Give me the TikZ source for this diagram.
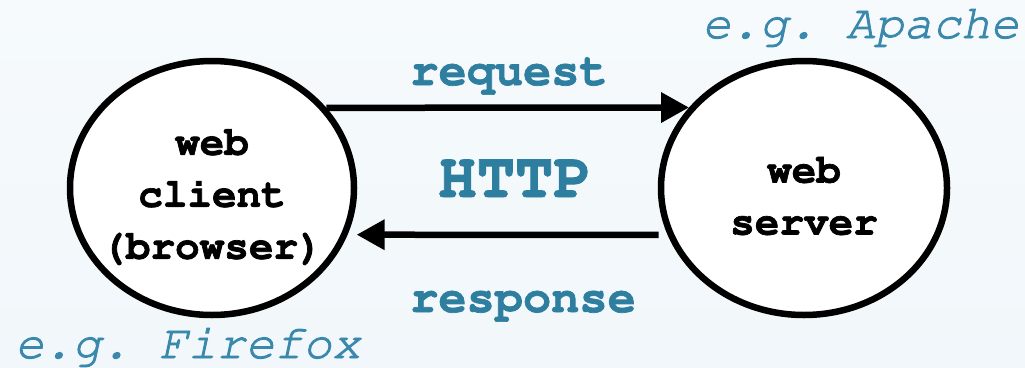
\documentclass[tikz,border=0pt]{standalone}
\usepackage[T1]{fontenc}
\renewcommand{\ttdefault}{pcr}
\usetikzlibrary{arrows.meta,shapes.geometric}
\definecolor{tealA}{HTML}{2E7EA0}
\definecolor{tealB}{HTML}{3A88AB}
\definecolor{bgtop}{HTML}{F6FAFD}
\definecolor{bgbot}{HTML}{F1F7FA}
\newcommand{\heavytext}[2]{\special{pdf:literal direct 2 Tr #1 w}#2\special{pdf:literal direct 0 Tr}}
\begin{document}
\frenchspacing
\begin{tikzpicture}[x=1pt,y=1pt,
  host/.style={ellipse, draw=black, line width=6.5pt, fill=white,
    minimum height=254pt, inner sep=0pt},
  hosttext/.style={font=\fontsize{41}{52}\selectfont\ttfamily\bfseries,
    align=center, inner sep=0pt},
  lbl/.style={font=\fontsize{47}{56}\selectfont\ttfamily\bfseries,
    text=tealA, inner sep=0pt},
  big/.style={font=\fontsize{64}{70}\selectfont\ttfamily\bfseries,
    text=tealA, inner sep=0pt},
  eg/.style={font=\fontsize{48}{56}\selectfont\ttfamily\slshape,
    text=tealB, inner sep=0pt},
  arr/.style={line width=6.5pt, -{Triangle[length=28pt,width=29pt]}}]
\shade[top color=bgtop, bottom color=bgbot] (0,0) rectangle (1025,-367);
\useasboundingbox (0,0) rectangle (1025,-367);

\node[host, minimum width=284pt] (client) at (212,-188) {};
\node[host, minimum width=286pt] (server) at (804,-188) {};

\node[hosttext] (clienttxt) at (212,-196) {\heavytext{0.7}{web}\\\heavytext{0.7}{client}\\\heavytext{0.7}{(browser)}};
\node[hosttext] (servertxt) at (804,-196) {\heavytext{0.7}{web}\\\heavytext{0.7}{server}};

\draw[arr] (client.35) -- (server.145.2);
\draw[arr, shorten <=9pt, shorten >=9pt] (server.199.4) -- (client.-19.6);

\node[lbl, anchor=base] (request) at (509,-85) {\heavytext{0.7}{request}};
\node[big, anchor=base] (http) at (515,-197) {\heavytext{0.9}{HTTP}};
\node[lbl, anchor=base] (response) at (523,-312) {\heavytext{0.7}{response}};

\node[eg, anchor=base west] (apache) at (702,-38) {\heavytext{0.9}{e.g. Apache}};
\node[eg, anchor=base west] (firefox) at (15,-358) {\heavytext{0.9}{e.g. Firefox}};
\end{tikzpicture}
\end{document}
